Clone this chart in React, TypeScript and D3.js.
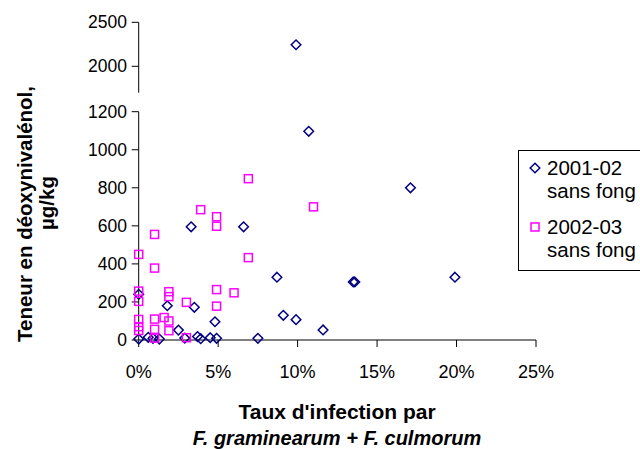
import React from "react";
import * as d3 from "d3";

const blueX = [0, 0, 0.6, 0.9, 1.3, 1.8, 2.5, 2.9, 3.3, 3.5, 3.7, 3.9, 4.5, 4.8, 4.9, 6.6, 7.5, 8.7, 9.1, 9.9, 9.9, 10.7, 11.6, 13.5, 13.6, 17.1, 19.9];
const blueY = [5, 240, 14, 9, 5, 180, 52, 10, 595, 172, 18, 7, 12, 96, 9, 595, 9, 330, 130, 107, 2245, 1097, 53, 305, 305, 800, 330];

const pinkX = [0, 0, 0, 0, 0, 0, 1, 1, 1, 1, 1, 1.6, 1.9, 1.9, 1.9, 1.9, 3.0, 3.0, 3.9, 4.9, 4.9, 4.9, 4.9, 6.0, 6.9, 6.9, 11.0];
const pinkY = [450, 257, 203, 108, 70, 50, 555, 378, 110, 56, 10, 118, 254, 228, 100, 49, 198, 12, 685, 648, 598, 265, 178, 248, 848, 433, 700];

const xTicks = [0, 5, 10, 15, 20, 25];
const yTicksLower = [0, 200, 400, 600, 800, 1000, 1200];
const yTicksUpper = [2000, 2500];
const seriesNames = [["2001-02", "sans fong"], ["2002-03", "sans fong"]];

const W = 640, H = 449;
const BLUE = "#000080", PINK = "#FF00FF";
const FONT = "'Liberation Sans', Arial, sans-serif";

export default function App() {
  const x = d3.scaleLinear().domain([0, 25]).range([138.7, 536]);
  const yLow = d3.scaleLinear().domain([0, 1200]).range([340, 111.7]);
  const yUp = d3.scaleLinear().domain([1700, 2500]).range([92.7, 22.3]);
  const yOf = (v: number) => (v > 1500 ? yUp(v) : yLow(v));

  const r = 4.8;
  const diamond = `M0,${-r}L${r},0L0,${r}L${-r},0Z`;
  const s = 4;

  const blue = blueX.map((v, i) => ({ x: v, y: blueY[i] }));
  const pink = pinkX.map((v, i) => ({ x: v, y: pinkY[i] }));

  const axisX0 = x(0);

  return (
    <svg width={W} height={H} style={{ position: "absolute", left: 0, top: 0, background: "#fff", overflow: "hidden" }} fontFamily={FONT}>
      <rect x={0} y={0} width={W} height={H} fill="#fff" />
      {/* lower y axis */}
      <line x1={axisX0} x2={axisX0} y1={yLow(1200)} y2={yLow(0)} stroke="#000" strokeWidth={1} />
      {yTicksLower.map((t) => (
        <g key={"yl" + t}>
          <line x1={axisX0 - 7} x2={axisX0} y1={yLow(t)} y2={yLow(t)} stroke="#000" />
          <text x={127} y={yLow(t)} dy="0.35em" textAnchor="end" fontSize={17.5}>{t}</text>
        </g>
      ))}
      {/* upper y axis */}
      <line x1={axisX0} x2={axisX0} y1={yUp(2500)} y2={yUp(1700)} stroke="#000" strokeWidth={1} />
      {yTicksUpper.map((t) => (
        <g key={"yu" + t}>
          <line x1={axisX0 - 7} x2={axisX0} y1={yUp(t)} y2={yUp(t)} stroke="#000" />
          <text x={127} y={yUp(t)} dy="0.35em" textAnchor="end" fontSize={17.5}>{t}</text>
        </g>
      ))}
      {/* x axis */}
      <line x1={x(0)} x2={x(25)} y1={yLow(0)} y2={yLow(0)} stroke="#000" />
      {xTicks.map((t) => (
        <g key={"x" + t}>
          <line x1={x(t)} x2={x(t)} y1={yLow(0)} y2={yLow(0) + 7} stroke="#000" />
          <text x={x(t)} y={378} textAnchor="middle" fontSize={18}>{t + "%"}</text>
        </g>
      ))}
      {/* points */}
      {blue.map((p, i) => (
        <path key={"b" + i} d={diamond} transform={`translate(${x(p.x)},${yOf(p.y)})`} fill="none" stroke={BLUE} strokeWidth={1.5} />
      ))}
      {pink.map((p, i) => (
        <rect key={"p" + i} x={x(p.x) - s} y={yOf(p.y) - s} width={2 * s} height={2 * s} fill="none" stroke={PINK} strokeWidth={1.5} />
      ))}
      {/* axis titles */}
      <text x={337} y={419} textAnchor="middle" fontSize={21} fontWeight="bold">Taux d'infection par</text>
      <text x={337} y={445} textAnchor="middle" fontSize={20} fontWeight="bold" fontStyle="italic">F. graminearum + F. culmorum</text>
      <text transform="translate(25,214) rotate(-90)" textAnchor="middle" dy="0.35em" fontSize={20.5} fontWeight="bold">Teneur en déoxynivalénol,</text>
      <text transform="translate(47,203) rotate(-90)" textAnchor="middle" dy="0.35em" fontSize={20.5} fontWeight="bold">µg/kg</text>
      {/* legend */}
      <rect x={518.5} y={150.5} width={200} height={120} fill="#fff" stroke="#000" strokeWidth={1} />
      <path d={diamond} transform="translate(535,168)" fill="none" stroke={BLUE} strokeWidth={1.5} />
      <text x={547} y={175} fontSize={20.5}>{seriesNames[0][0]}</text>
      <text x={547} y={198} fontSize={20.5}>{seriesNames[0][1]}</text>
      <rect x={535 - s} y={227 - s} width={2 * s} height={2 * s} fill="none" stroke={PINK} strokeWidth={1.5} />
      <text x={547} y={234} fontSize={20.5}>{seriesNames[1][0]}</text>
      <text x={547} y={257} fontSize={20.5}>{seriesNames[1][1]}</text>
    </svg>
  );
}
